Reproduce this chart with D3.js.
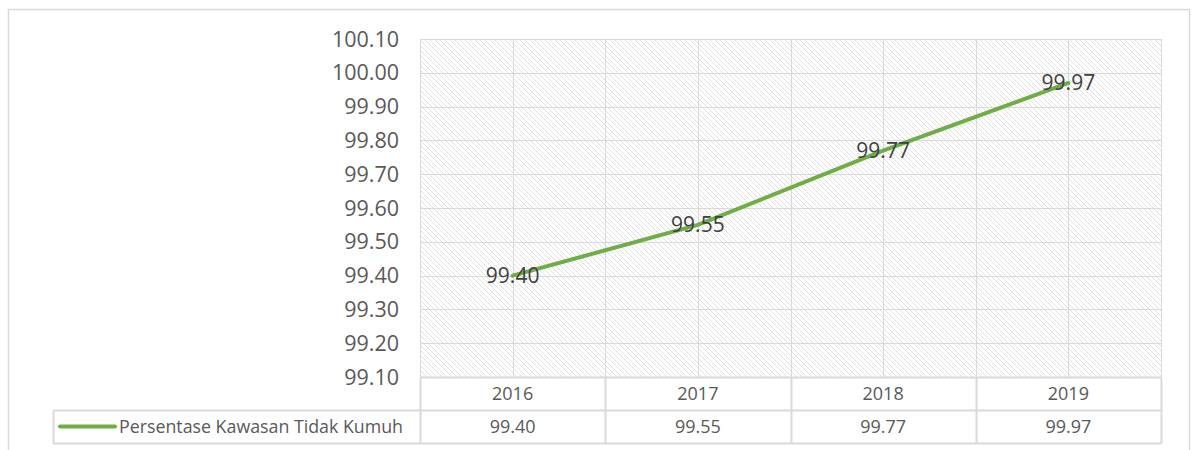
<!DOCTYPE html>
<html>
<head>
<meta charset="utf-8">
<script src="https://cdn.jsdelivr.net/npm/d3@7"></script>
<style>
  body { margin: 0; background: #fff; }
  svg { display: block; font-family: "Open Sans", "DejaVu Sans", sans-serif; }
</style>
</head>
<body>
<div id="chart"></div>
<script>
let years = ["2016", "2017", "2018", "2019"];
let values = [99.40, 99.55, 99.77, 99.97];
let seriesName = "Persentase Kawasan Tidak Kumuh";
let yTicks = [99.10, 99.20, 99.30, 99.40, 99.50, 99.60, 99.70, 99.80, 99.90, 100.00, 100.10];

let width = 1192, height = 450;
let plotLeft = 420, plotRight = 1161, plotTop = 39, plotBottom = 377;
let rowH = 33;
let legendLeft = 53;
let gridColor = "#d9d9d9";
let green = "#70ad47";

let svg = d3.select("#chart").append("svg")
    .attr("width", width)
    .attr("height", height);

// hatch fill for the plot area
svg.append("defs").append("pattern")
    .attr("id", "hatch")
    .attr("patternUnits", "userSpaceOnUse")
    .attr("width", 5)
    .attr("height", 5)
    .append("path")
    .attr("d", "M-1,-1 L6,6 M-1,4 L1,6 M4,-1 L6,1")
    .attr("stroke", "#e0e0e0")
    .attr("stroke-width", 1);

// outer frame
svg.append("rect")
    .attr("x", 8.5).attr("y", 9.5)
    .attr("width", 1181).attr("height", 460)
    .attr("fill", "none")
    .attr("stroke", gridColor)
    .attr("stroke-width", 1.5);

let x = d3.scaleBand().domain(years).range([plotLeft, plotRight]);
let y = d3.scaleLinear().domain([99.10, 100.10]).range([plotBottom, plotTop]);

svg.append("rect")
    .attr("x", plotLeft).attr("y", plotTop)
    .attr("width", plotRight - plotLeft).attr("height", plotBottom - plotTop)
    .attr("fill", "url(#hatch)");

// horizontal gridlines
svg.append("g")
    .selectAll("line")
    .data(yTicks)
    .enter().append("line")
    .attr("x1", plotLeft).attr("x2", plotRight)
    .attr("y1", d => Math.round(y(d)) + 0.5)
    .attr("y2", d => Math.round(y(d)) + 0.5)
    .attr("stroke", gridColor)
    .attr("stroke-width", 1);

// vertical gridlines at category edges and centers
let vx = [];
years.forEach(yr => {
    vx.push(x(yr));
    vx.push(x(yr) + x.bandwidth() / 2);
});
vx.push(plotRight);
svg.append("g")
    .selectAll("line")
    .data(vx)
    .enter().append("line")
    .attr("x1", d => Math.round(d) + 0.5).attr("x2", d => Math.round(d) + 0.5)
    .attr("y1", plotTop).attr("y2", plotBottom)
    .attr("stroke", gridColor)
    .attr("stroke-width", 1);

// y axis labels
svg.append("g")
    .selectAll("text")
    .data(yTicks)
    .enter().append("text")
    .attr("x", 399)
    .attr("y", d => y(d))
    .attr("dy", "0.35em")
    .attr("text-anchor", "end")
    .attr("font-size", 21.5)
    .attr("fill", "#595959")
    .text(d => d.toFixed(2));

// data table
let table = svg.append("g");
let tableLines = [
    [plotLeft, plotBottom, plotRight, plotBottom],
    [legendLeft, plotBottom + rowH, plotRight, plotBottom + rowH],
    [legendLeft, plotBottom + 2 * rowH, plotRight, plotBottom + 2 * rowH],
    [legendLeft, plotBottom + rowH, legendLeft, plotBottom + 2 * rowH]
];
years.forEach(yr => tableLines.push([x(yr), plotBottom, x(yr), plotBottom + 2 * rowH]));
tableLines.push([plotRight, plotBottom, plotRight, plotBottom + 2 * rowH]);
table.selectAll("line")
    .data(tableLines)
    .enter().append("line")
    .attr("x1", d => Math.round(d[0]) + 0.5)
    .attr("y1", d => Math.round(d[1]) + 0.5)
    .attr("x2", d => Math.round(d[2]) + 0.5)
    .attr("y2", d => Math.round(d[3]) + 0.5)
    .attr("stroke", gridColor)
    .attr("stroke-width", 2);

table.selectAll("text.year")
    .data(years)
    .enter().append("text")
    .attr("class", "year")
    .attr("x", d => x(d) + x.bandwidth() / 2)
    .attr("y", plotBottom + rowH / 2)
    .attr("dy", "0.35em")
    .attr("text-anchor", "middle")
    .attr("font-size", 18)
    .attr("fill", "#595959")
    .text(d => d);

table.selectAll("text.val")
    .data(values)
    .enter().append("text")
    .attr("class", "val")
    .attr("x", (d, i) => x(years[i]) + x.bandwidth() / 2)
    .attr("y", plotBottom + rowH * 1.5)
    .attr("dy", "0.35em")
    .attr("text-anchor", "middle")
    .attr("font-size", 18)
    .attr("fill", "#595959")
    .text(d => d.toFixed(2));

// legend key in table
table.append("line")
    .attr("x1", 60).attr("x2", 115)
    .attr("y1", plotBottom + rowH * 1.5).attr("y2", plotBottom + rowH * 1.5)
    .attr("stroke", green)
    .attr("stroke-width", 4)
    .attr("stroke-linecap", "round");
table.append("text")
    .attr("x", 119)
    .attr("y", plotBottom + rowH * 1.5)
    .attr("dy", "0.35em")
    .attr("font-size", 17.8)
    .attr("fill", "#595959")
    .text(seriesName);

// series line
let line = d3.line()
    .x((d, i) => x(years[i]) + x.bandwidth() / 2)
    .y(d => y(d));
svg.append("path")
    .datum(values)
    .attr("d", line)
    .attr("fill", "none")
    .attr("stroke", green)
    .attr("stroke-width", 4)
    .attr("stroke-linecap", "round");

// data labels
svg.append("g")
    .selectAll("text")
    .data(values)
    .enter().append("text")
    .attr("x", (d, i) => x(years[i]) + x.bandwidth() / 2)
    .attr("y", d => y(d))
    .attr("dy", "0.35em")
    .attr("text-anchor", "middle")
    .attr("font-size", 21)
    .attr("fill", "#404040")
    .text(d => d.toFixed(2));
</script>
</body>
</html>
